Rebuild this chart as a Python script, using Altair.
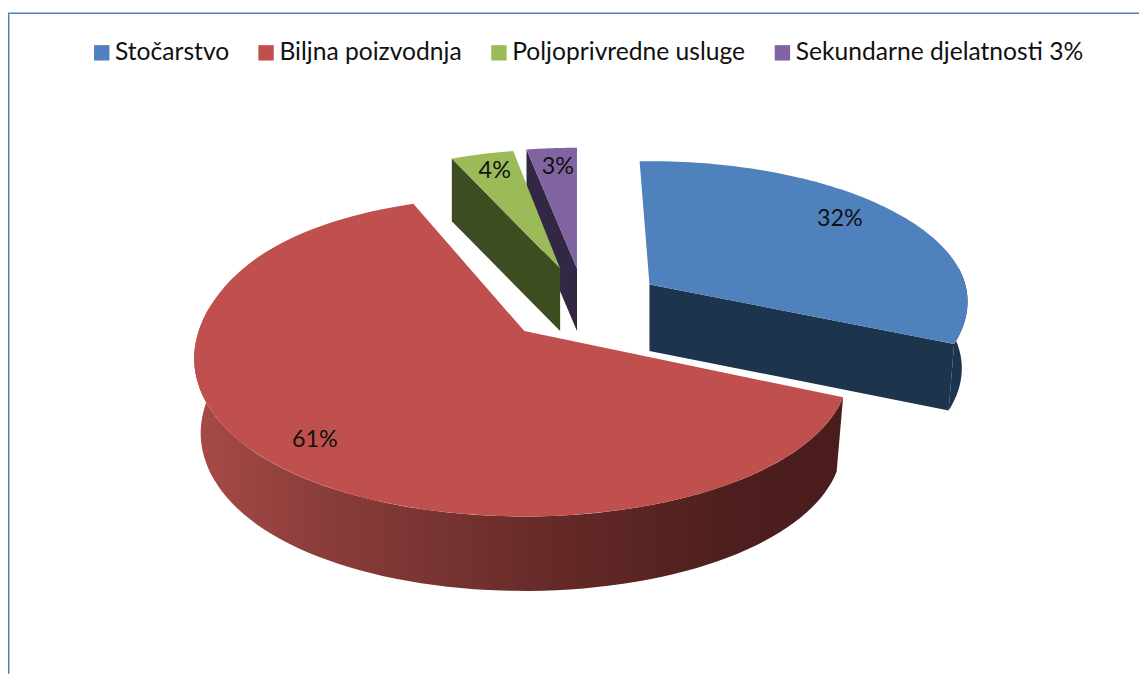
import math
import altair as alt
import pandas as pd

# Values
categories = ["Stočarstvo", "Biljna poizvodnja", "Poljoprivredne usluge", "Sekundarne djelatnosti 3%"]
shares = [32, 61, 4, 3]
labels = ["32%", "61%", "4%", "3%"]
top_colors = ["#4F81BD", "#C0504D", "#9BBB59", "#8064A2"]

# Perspective model of each exploded slice
MODEL = {
    "Stočarstvo": dict(apex=(650, 284), k=0.12, R=318, Qu=139, Qd=145, rot=-2, tilt=0, fuller=0, narrow=0, depth=67, shrink=0.018, anchor=650, lab=(0.78, 0.90)),
    "Biljna poizvodnja": dict(apex=(524, 331), k=0.25, R=322, Qu=170, Qd=140, rot=0, tilt=15, fuller=16, narrow=0.019, depth=75, shrink=0.02, anchor=520, lab=(0.763, 0.925)),
    "Poljoprivredne usluge": dict(apex=(560, 268), k=0.25, R=314, Qu=150, Qd=150, rot=0, tilt=0, fuller=0, narrow=0, depth=63, shrink=0, anchor=560, lab=(0.84, 0.855)),
    "Sekundarne djelatnosti 3%": dict(apex=(577, 268), k=0.25, R=338, Qu=152, Qd=152, rot=0, tilt=0, fuller=0, narrow=0, depth=63, shrink=0, anchor=577, lab=(0.76, 0.84)),
}

starts = {}
total = 0
for c, s in zip(categories, shares):
    starts[c] = (total * 3.6, (total + s) * 3.6)
    total += s


def pt(c, deg):
    m = MODEL[c]
    a = math.radians(deg + m["rot"])
    u, v = math.sin(a), math.cos(a)
    w = 1 + m["k"] * v
    t = min(1.0, max(0.0, (v + 0.4) / 0.8))
    q = m["Qd"] + (m["Qu"] - m["Qd"]) * t * t * (3 - 2 * t)
    lift = 0
    if u < 0:
        lift = m["tilt"] * u * u
        if v < 0:
            lift -= m["fuller"] * abs(v) * u * u
    r = m["R"] * (1 - m["narrow"] * u * u) if u > 0 else m["R"]
    return m["apex"][0] + r * u / w, m["apex"][1] - q * v / w - lift


def low(c, p):
    m = MODEL[c]
    return p[0] - m["shrink"] * (p[0] - m["anchor"]), p[1] + m["depth"]


def arc(c, a0, a1, n=90):
    return [pt(c, a0 + (a1 - a0) * i / n) for i in range(n + 1)]


def frame(points, name, cat=None):
    return pd.DataFrame(
        [dict(i=i, x=p[0], y=p[1], part=name, slice=cat) for i, p in enumerate(points)]
    )


xs = alt.Scale(domain=[4, 1143], nice=False, zero=False)
ys = alt.Scale(domain=[676, 8], nice=False, zero=False)
X = alt.X("x:Q", scale=xs, axis=None)
Y = alt.Y("y:Q", scale=ys, axis=None)
legend = alt.Legend(
    title=None, orient="none", legendX=82, legendY=30, direction="horizontal", columns=4,
    columnPadding=24.5, symbolType="square", symbolSize=240, symbolStrokeWidth=0, symbolOpacity=1,
    labelFont="Lato", labelFontSize=24.8, labelColor="#111111", labelOffset=1, labelLimit=400,
    padding=0, symbolOffset=0,
)


def face(c):
    a0, a1 = starts[c]
    pts = [MODEL[c]["apex"]] + arc(c, a0, a1)
    df = frame(pts, "top", c)
    return (
        alt.Chart(df).mark_line(strokeWidth=0)
        .encode(x=X, y=Y, order="i:Q",
                fill=alt.Fill("slice:N", legend=legend,
                              scale=alt.Scale(domain=categories, range=top_colors)))
    )


def side(points, fill):
    df = frame(points, "side")
    return alt.Chart(df).mark_line(strokeWidth=0, fill=fill).encode(x=X, y=Y, order="i:Q")


def radial_side(c, deg):
    apex = MODEL[c]["apex"]
    edge = pt(c, deg)
    return [apex, edge, low(c, edge), low(c, apex)]


def wall(c, a0, a1):
    top = arc(c, a0, a1)
    return top + [low(c, p) for p in reversed(top)]


blue, red, green, purple = categories
red_fill = alt.LinearGradient(
    gradient="linear", x1=0, x2=1, y1=0, y2=0,
    stops=[
        alt.GradientStop(color="#A84A47", offset=0),
        alt.GradientStop(color="#8A3D3A", offset=0.2),
        alt.GradientStop(color="#662A28", offset=0.55),
        alt.GradientStop(color="#4C1E1D", offset=0.85),
        alt.GradientStop(color="#4A1C1C", offset=1),
    ],
)

layers = [
    side(radial_side(purple, starts[purple][0]), "#322844"),
    face(purple),
    side(radial_side(green, starts[green][0]), "#3E4C22"),
    face(green),
    side(radial_side(blue, starts[blue][1]), "#1D344D"),
    side(wall(blue, 85, starts[blue][1]), "#1D344D"),
    face(blue),
    side(wall(red, starts[red][0], 285), red_fill),
    face(red),
]

rows = []
for c, lab in zip(categories, labels):
    a0, a1 = starts[c]
    ax, ay = MODEL[c]["apex"]
    px, py = pt(c, (a0 + a1) / 2)
    fx, fy = MODEL[c]["lab"]
    rows.append(dict(x=ax + fx * (px - ax), y=ay + fy * (py - ay), label=lab))
text = (
    alt.Chart(pd.DataFrame(rows))
    .mark_text(font="Lato", fontSize=23.5, color="#111111")
    .encode(x=X, y=Y, text="label:N")
)
left_rule = alt.Chart().mark_rule(color="#4F81BD", strokeWidth=2).encode(
    x=alt.value(0.5), y=alt.value(3), y2=alt.value(668))
top_rule = alt.Chart().mark_rule(color="#4F81BD", strokeWidth=1.5).encode(
    y=alt.value(3), x=alt.value(0), x2=alt.value(1139))

chart = (
    alt.layer(*layers, text, left_rule, top_rule)
    .properties(width=1139, height=668, padding=0, autosize=alt.AutoSizeParams(type="none"),
                background="white")
    .configure_view(stroke=None)
)
chart.save("out.html", embed_options={"renderer": "svg", "actions": False})
